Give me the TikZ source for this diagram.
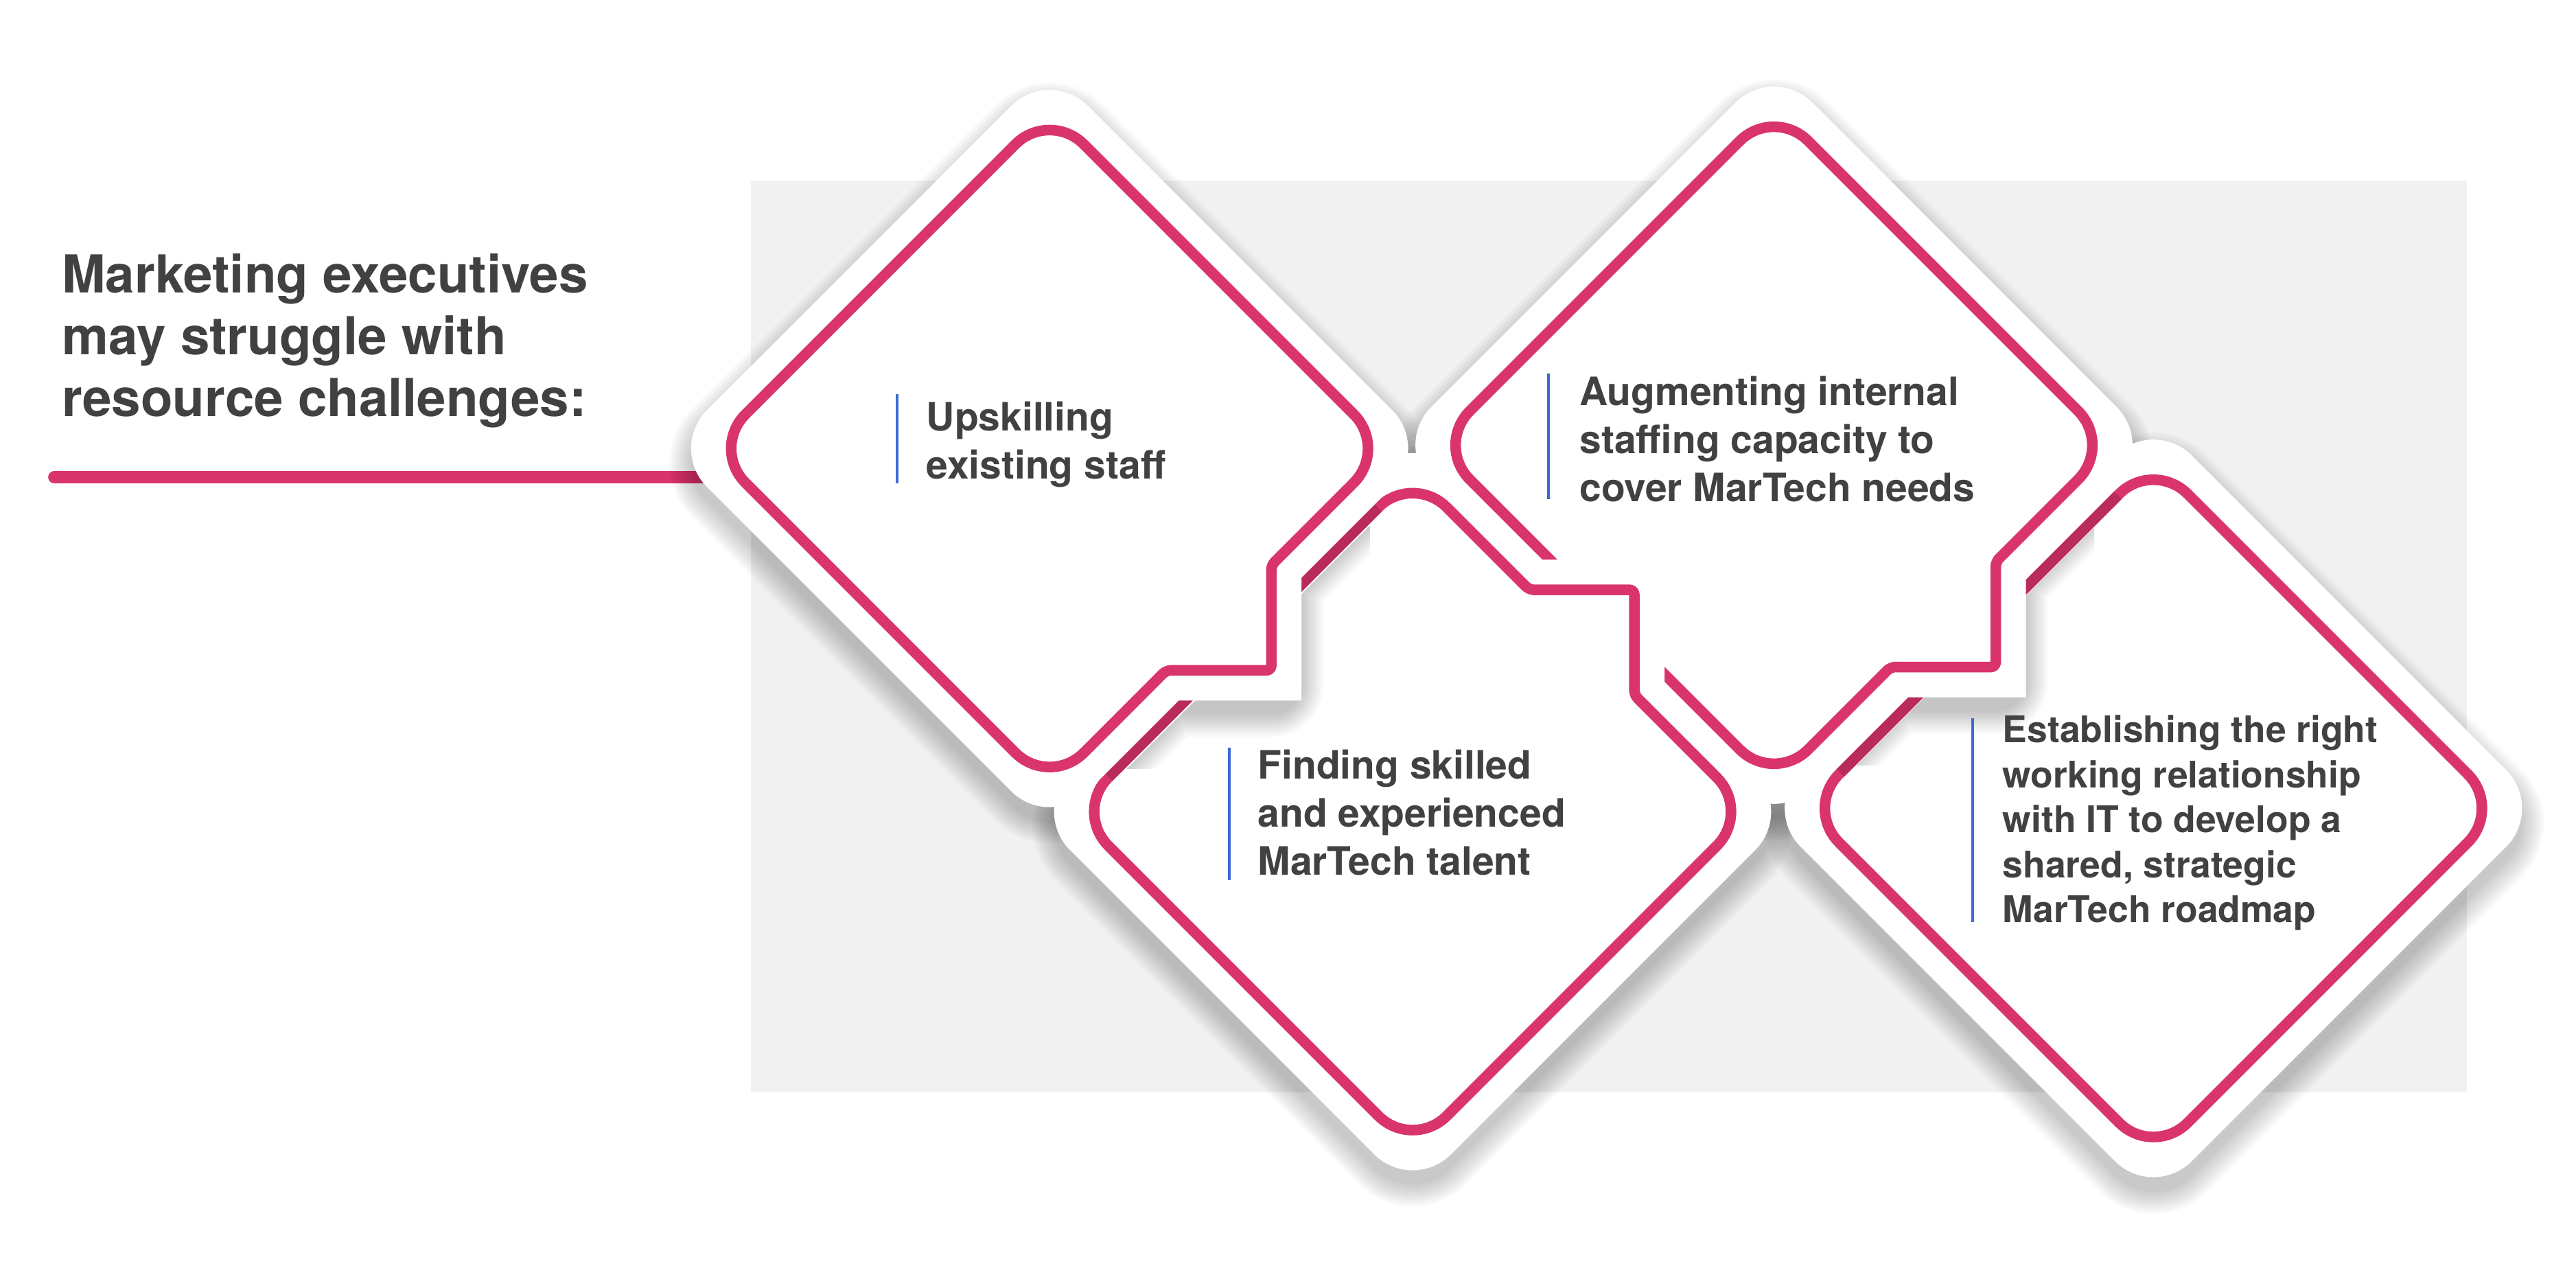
\documentclass[tikz,border=0pt]{standalone}
\usepackage{fontspec}
\setmainfont{TeX Gyre Heros}

\definecolor{pinkline}{HTML}{D9346B}
\definecolor{shadepink}{HTML}{B92B5B}
\definecolor{panelgray}{HTML}{F0F1F0}
\definecolor{textgray}{HTML}{414042}
\definecolor{barblue}{HTML}{3D6AD6}

% outlines of the diamonds, relative to their centres
% #1 rounding of the big corners, #2 rounding of the tab corners
\newcommand{\plaindia}[2]{(-103,-103) [#1] -- (0,-206) -- (206,0) -- (0,206) -- (-206,0) -- cycle}
\newcommand{\tabdownright}[2]{(-103,-103) [#1] -- (0,-206) -- (206,0) [#2] -- (135,71) -- (135,135) -- (71,135) [#1] -- (0,206) -- (-206,0) -- cycle}
\newcommand{\tabupright}[2]{(-103,-103) [#1] -- (0,-206) [#2] -- (71,-135) -- (135,-135) -- (135,-71) [#1] -- (206,0) -- (0,206) -- (-206,0) -- cycle}

\newcommand{\shadowlayers}[1]{%
  \begin{scope}[yshift=-6pt]
    \foreach \k in {0,...,9}
      \path[softshadow, line width=25pt+\k*2pt] #1{rounded corners=10pt}{sharp corners};
  \end{scope}}
\newcommand{\castshadow}[3]{%
  \begin{scope}[shift={(#1)}, scale=#3]
    \shadowlayers{#2}
  \end{scope}}
% shadow of a lower right tab on the diamond below it
\newcommand{\tabshadow}[2]{%
  \begin{scope}[shift={(#1)}]
    \clip (150,#2) -- (195,{#2-45}) -- (195,195) -- ({#2-45},195) -- (#2,150) -- (150,150) -- cycle;
    \shadowlayers{\tabdownright}
  \end{scope}}
\newcommand{\drawdiamond}[3]{%
  \begin{scope}[shift={(#1)}, scale=#3]
    \path[halo] #2{rounded corners=10pt}{sharp corners};
    \path[outline] #2{rounded corners=20pt}{rounded corners=2pt};
  \end{scope}}

\begin{document}
\begin{tikzpicture}[x=0.2393mm, y=-0.2393mm,
  halo/.style={fill=white, draw=white, line width=25pt, line join=miter},
  outline/.style={draw=pinkline, line width=4.4pt, line join=round},
  shadeedge/.style={draw=shadepink, line width=4.4pt},
  softshadow/.style={fill=black, draw=black, opacity=0.024, line join=round},
  headtext/.style={font=\bfseries\fontsize{21.7}{25.6}\selectfont, text=textgray, align=left, anchor=base west, inner sep=0pt},
  itemtext/.style={font=\bfseries\fontsize{16.2}{20}\selectfont, text=textgray, align=left, anchor=base west, inner sep=0pt},
  itembar/.style={draw=barblue, line width=1.1pt},
  headline/.style={draw=pinkline, line width=5pt, line cap=round}]
\useasboundingbox (0,0) rectangle (1568.3,783.6);

% grey panel behind the diamonds
\fill[panelgray] (457,110) rectangle (1502,665);

\coordinate (d1) at (639,273);
\coordinate (d2) at (860,494);
\coordinate (d3) at (1080,271);
\coordinate (d4) at (1311,492);
\coordinate (linestart) at (33,290.4);

% anchored on the baseline of the last line
\node[headtext] (heading) at (37.5,253.6) {Marketing executives\\may struggle with\\resource challenges:};
\draw[headline] (linestart) -- (linestart -| d1);

% shadows first, then the diamonds from back to front
\castshadow{d1}{\tabdownright}{1}
\castshadow{d2}{\tabupright}{1}
\castshadow{d3}{\tabdownright}{1}
\castshadow{d4}{\plaindia}{1.03}

\drawdiamond{d4}{\plaindia}{1.03}
\begin{scope}[shift={(d4)}, scale=1.03]
  \draw[shadeedge] (-185,-21) -- (-21,-185);
\end{scope}
\tabshadow{d3}{95}
\drawdiamond{d3}{\tabdownright}{1}
\drawdiamond{d2}{\tabupright}{1}
\begin{scope}[shift={(d2)}]
  \draw[shadeedge] (-185,-21) -- (-21,-185);
\end{scope}
\tabshadow{d1}{92}
\drawdiamond{d1}{\tabdownright}{1}

% texts
\node[itemtext] (upskill) at (563.7,291.4) {Upskilling\\existing staff};
\node[itemtext] (finding) at (765.5,532.7) {Finding skilled\\and experienced\\MarTech talent};
\node[itemtext] (augment) at (961.4,305.3) {Augmenting internal\\staffing capacity to\\cover MarTech needs};
\node[itemtext, font=\bfseries\fontsize{15.2}{18.6}\selectfont] (establish) at (1219,561.4) {Establishing the right\\working relationship\\with IT to develop a\\shared, strategic\\MarTech roadmap};

\draw[itembar] (546,240) -- (546,294);
\draw[itembar] (748.5,455) -- (748.5,535.7);
\draw[itembar] (942.6,227.4) -- (942.6,303.8);
\draw[itembar] (1200.8,437) -- (1200.8,561);

\end{tikzpicture}
\end{document}
